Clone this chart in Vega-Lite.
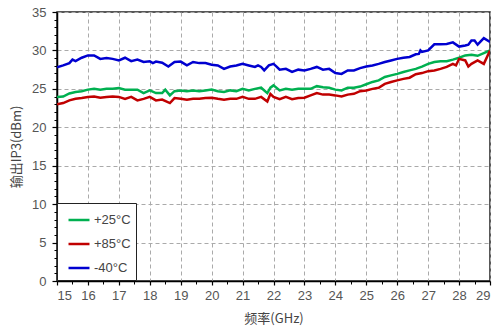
{
  "$schema": "https://vega.github.io/schema/vega-lite/v6.json",
  "width": 433,
  "height": 269,
  "autosize": "none",
  "padding": {"left": 57, "top": 12, "right": 6, "bottom": 49},
  "background": "white",
  "config": {"view": {"stroke": "#222", "strokeWidth": 1.5}},
  "data": {"values": [
    {"f":15.0,"s":"+25°C","v":23.95},{"f":15.2,"s":"+25°C","v":24.0},{"f":15.4,"s":"+25°C","v":24.4},{"f":15.6,"s":"+25°C","v":24.6},{"f":15.8,"s":"+25°C","v":24.7},{"f":16.0,"s":"+25°C","v":24.9},{"f":16.2,"s":"+25°C","v":25.0},{"f":16.4,"s":"+25°C","v":24.9},{"f":16.6,"s":"+25°C","v":25.0},{"f":16.8,"s":"+25°C","v":25.0},{"f":17.0,"s":"+25°C","v":25.1},{"f":17.2,"s":"+25°C","v":24.9},{"f":17.4,"s":"+25°C","v":24.9},{"f":17.6,"s":"+25°C","v":24.9},{"f":17.8,"s":"+25°C","v":24.45},{"f":18.0,"s":"+25°C","v":24.8},{"f":18.2,"s":"+25°C","v":24.45},{"f":18.4,"s":"+25°C","v":24.45},{"f":18.5,"s":"+25°C","v":24.9},{"f":18.65,"s":"+25°C","v":24.15},{"f":18.8,"s":"+25°C","v":24.7},{"f":19.0,"s":"+25°C","v":24.8},{"f":19.2,"s":"+25°C","v":24.7},{"f":19.4,"s":"+25°C","v":24.8},{"f":19.6,"s":"+25°C","v":24.7},{"f":19.8,"s":"+25°C","v":24.8},{"f":20.0,"s":"+25°C","v":24.9},{"f":20.2,"s":"+25°C","v":24.7},{"f":20.4,"s":"+25°C","v":24.6},{"f":20.6,"s":"+25°C","v":24.8},{"f":20.8,"s":"+25°C","v":24.7},{"f":21.0,"s":"+25°C","v":25.0},{"f":21.2,"s":"+25°C","v":24.8},{"f":21.4,"s":"+25°C","v":25.0},{"f":21.6,"s":"+25°C","v":25.15},{"f":21.8,"s":"+25°C","v":24.45},{"f":21.9,"s":"+25°C","v":25.15},{"f":22.0,"s":"+25°C","v":25.45},{"f":22.2,"s":"+25°C","v":24.8},{"f":22.4,"s":"+25°C","v":25.0},{"f":22.6,"s":"+25°C","v":24.9},{"f":22.8,"s":"+25°C","v":25.0},{"f":23.0,"s":"+25°C","v":25.0},{"f":23.2,"s":"+25°C","v":25.0},{"f":23.4,"s":"+25°C","v":25.35},{"f":23.6,"s":"+25°C","v":25.2},{"f":23.8,"s":"+25°C","v":25.15},{"f":24.0,"s":"+25°C","v":24.9},{"f":24.2,"s":"+25°C","v":24.8},{"f":24.4,"s":"+25°C","v":25.15},{"f":24.6,"s":"+25°C","v":25.15},{"f":24.8,"s":"+25°C","v":25.3},{"f":25.0,"s":"+25°C","v":25.6},{"f":25.2,"s":"+25°C","v":25.9},{"f":25.4,"s":"+25°C","v":26.1},{"f":25.6,"s":"+25°C","v":26.55},{"f":25.8,"s":"+25°C","v":26.75},{"f":26.0,"s":"+25°C","v":26.95},{"f":26.2,"s":"+25°C","v":27.2},{"f":26.4,"s":"+25°C","v":27.4},{"f":26.6,"s":"+25°C","v":27.6},{"f":26.8,"s":"+25°C","v":27.9},{"f":27.0,"s":"+25°C","v":28.25},{"f":27.2,"s":"+25°C","v":28.5},{"f":27.4,"s":"+25°C","v":28.6},{"f":27.6,"s":"+25°C","v":28.6},{"f":27.8,"s":"+25°C","v":28.8},{"f":28.0,"s":"+25°C","v":29.05},{"f":28.2,"s":"+25°C","v":29.35},{"f":28.4,"s":"+25°C","v":29.45},{"f":28.6,"s":"+25°C","v":29.3},{"f":28.8,"s":"+25°C","v":29.65},{"f":29.0,"s":"+25°C","v":30.0},
    {"f":15.0,"s":"+85°C","v":23.0},{"f":15.2,"s":"+85°C","v":23.15},{"f":15.4,"s":"+85°C","v":23.5},{"f":15.6,"s":"+85°C","v":23.7},{"f":15.8,"s":"+85°C","v":23.8},{"f":16.0,"s":"+85°C","v":23.95},{"f":16.2,"s":"+85°C","v":24.0},{"f":16.4,"s":"+85°C","v":23.85},{"f":16.6,"s":"+85°C","v":23.95},{"f":16.8,"s":"+85°C","v":24.0},{"f":17.0,"s":"+85°C","v":23.95},{"f":17.2,"s":"+85°C","v":23.7},{"f":17.4,"s":"+85°C","v":23.95},{"f":17.6,"s":"+85°C","v":23.5},{"f":17.8,"s":"+85°C","v":23.7},{"f":18.0,"s":"+85°C","v":23.95},{"f":18.2,"s":"+85°C","v":23.5},{"f":18.4,"s":"+85°C","v":23.6},{"f":18.65,"s":"+85°C","v":23.15},{"f":18.8,"s":"+85°C","v":23.8},{"f":19.0,"s":"+85°C","v":23.7},{"f":19.2,"s":"+85°C","v":23.6},{"f":19.4,"s":"+85°C","v":23.7},{"f":19.6,"s":"+85°C","v":23.7},{"f":19.8,"s":"+85°C","v":23.8},{"f":20.0,"s":"+85°C","v":23.85},{"f":20.2,"s":"+85°C","v":23.7},{"f":20.4,"s":"+85°C","v":23.6},{"f":20.6,"s":"+85°C","v":23.7},{"f":20.8,"s":"+85°C","v":23.7},{"f":21.0,"s":"+85°C","v":23.95},{"f":21.2,"s":"+85°C","v":23.7},{"f":21.4,"s":"+85°C","v":23.7},{"f":21.6,"s":"+85°C","v":23.95},{"f":21.8,"s":"+85°C","v":23.35},{"f":21.9,"s":"+85°C","v":24.35},{"f":22.0,"s":"+85°C","v":23.95},{"f":22.2,"s":"+85°C","v":23.65},{"f":22.4,"s":"+85°C","v":23.95},{"f":22.6,"s":"+85°C","v":23.65},{"f":22.8,"s":"+85°C","v":23.8},{"f":23.0,"s":"+85°C","v":23.85},{"f":23.2,"s":"+85°C","v":24.15},{"f":23.4,"s":"+85°C","v":24.45},{"f":23.6,"s":"+85°C","v":24.25},{"f":23.8,"s":"+85°C","v":24.25},{"f":24.0,"s":"+85°C","v":24.15},{"f":24.2,"s":"+85°C","v":24.0},{"f":24.4,"s":"+85°C","v":24.25},{"f":24.6,"s":"+85°C","v":24.35},{"f":24.8,"s":"+85°C","v":24.7},{"f":25.0,"s":"+85°C","v":24.8},{"f":25.2,"s":"+85°C","v":25.0},{"f":25.4,"s":"+85°C","v":25.15},{"f":25.6,"s":"+85°C","v":25.65},{"f":25.8,"s":"+85°C","v":25.9},{"f":26.0,"s":"+85°C","v":26.1},{"f":26.2,"s":"+85°C","v":26.3},{"f":26.4,"s":"+85°C","v":26.45},{"f":26.6,"s":"+85°C","v":26.9},{"f":26.8,"s":"+85°C","v":27.05},{"f":27.0,"s":"+85°C","v":27.3},{"f":27.2,"s":"+85°C","v":27.4},{"f":27.4,"s":"+85°C","v":27.6},{"f":27.6,"s":"+85°C","v":27.85},{"f":27.8,"s":"+85°C","v":28.25},{"f":27.9,"s":"+85°C","v":28.05},{"f":28.0,"s":"+85°C","v":28.9},{"f":28.2,"s":"+85°C","v":28.7},{"f":28.3,"s":"+85°C","v":27.9},{"f":28.4,"s":"+85°C","v":28.25},{"f":28.6,"s":"+85°C","v":28.7},{"f":28.8,"s":"+85°C","v":28.25},{"f":29.0,"s":"+85°C","v":30.0},
    {"f":15.0,"s":"-40°C","v":27.8},{"f":15.2,"s":"-40°C","v":28.05},{"f":15.4,"s":"-40°C","v":28.35},{"f":15.5,"s":"-40°C","v":28.8},{"f":15.6,"s":"-40°C","v":28.6},{"f":15.8,"s":"-40°C","v":29.05},{"f":16.0,"s":"-40°C","v":29.35},{"f":16.2,"s":"-40°C","v":29.35},{"f":16.4,"s":"-40°C","v":28.9},{"f":16.6,"s":"-40°C","v":29.0},{"f":16.8,"s":"-40°C","v":28.9},{"f":17.0,"s":"-40°C","v":28.7},{"f":17.2,"s":"-40°C","v":29.05},{"f":17.4,"s":"-40°C","v":28.6},{"f":17.6,"s":"-40°C","v":28.8},{"f":17.8,"s":"-40°C","v":28.5},{"f":18.0,"s":"-40°C","v":28.6},{"f":18.1,"s":"-40°C","v":28.35},{"f":18.2,"s":"-40°C","v":28.55},{"f":18.4,"s":"-40°C","v":28.4},{"f":18.6,"s":"-40°C","v":27.9},{"f":18.8,"s":"-40°C","v":28.5},{"f":19.0,"s":"-40°C","v":28.55},{"f":19.2,"s":"-40°C","v":28.05},{"f":19.4,"s":"-40°C","v":28.5},{"f":19.6,"s":"-40°C","v":28.35},{"f":19.8,"s":"-40°C","v":28.35},{"f":20.0,"s":"-40°C","v":28.15},{"f":20.2,"s":"-40°C","v":28.05},{"f":20.4,"s":"-40°C","v":27.6},{"f":20.6,"s":"-40°C","v":27.9},{"f":20.8,"s":"-40°C","v":28.05},{"f":21.0,"s":"-40°C","v":28.25},{"f":21.2,"s":"-40°C","v":28.05},{"f":21.4,"s":"-40°C","v":27.85},{"f":21.5,"s":"-40°C","v":28.05},{"f":21.6,"s":"-40°C","v":27.85},{"f":21.7,"s":"-40°C","v":27.4},{"f":21.85,"s":"-40°C","v":28.05},{"f":22.0,"s":"-40°C","v":28.25},{"f":22.1,"s":"-40°C","v":27.9},{"f":22.2,"s":"-40°C","v":27.5},{"f":22.4,"s":"-40°C","v":27.6},{"f":22.6,"s":"-40°C","v":27.2},{"f":22.8,"s":"-40°C","v":27.5},{"f":23.0,"s":"-40°C","v":27.4},{"f":23.2,"s":"-40°C","v":27.6},{"f":23.4,"s":"-40°C","v":27.85},{"f":23.6,"s":"-40°C","v":27.5},{"f":23.8,"s":"-40°C","v":27.6},{"f":24.0,"s":"-40°C","v":27.05},{"f":24.2,"s":"-40°C","v":26.95},{"f":24.4,"s":"-40°C","v":27.4},{"f":24.6,"s":"-40°C","v":27.4},{"f":24.8,"s":"-40°C","v":27.7},{"f":25.0,"s":"-40°C","v":27.9},{"f":25.2,"s":"-40°C","v":28.05},{"f":25.4,"s":"-40°C","v":28.25},{"f":25.6,"s":"-40°C","v":28.5},{"f":25.8,"s":"-40°C","v":28.7},{"f":26.0,"s":"-40°C","v":28.9},{"f":26.2,"s":"-40°C","v":29.05},{"f":26.4,"s":"-40°C","v":29.15},{"f":26.6,"s":"-40°C","v":29.5},{"f":26.7,"s":"-40°C","v":29.55},{"f":26.75,"s":"-40°C","v":30.0},{"f":26.8,"s":"-40°C","v":29.8},{"f":27.0,"s":"-40°C","v":30.0},{"f":27.2,"s":"-40°C","v":30.8},{"f":27.4,"s":"-40°C","v":30.8},{"f":27.6,"s":"-40°C","v":30.85},{"f":27.8,"s":"-40°C","v":31.05},{"f":28.0,"s":"-40°C","v":30.5},{"f":28.2,"s":"-40°C","v":30.65},{"f":28.3,"s":"-40°C","v":30.75},{"f":28.4,"s":"-40°C","v":31.3},{"f":28.5,"s":"-40°C","v":31.3},{"f":28.6,"s":"-40°C","v":30.75},{"f":28.8,"s":"-40°C","v":31.6},{"f":29.0,"s":"-40°C","v":31.1}
  ]},
  "layer": [
    {
      "mark": {"type": "line", "strokeWidth": 2.5, "clip": true},
      "encoding": {
        "x": {"field": "f", "type": "quantitative",
          "scale": {"domain": [15, 29], "nice": false, "zero": false},
          "axis": {"orient": "bottom", "values": [15,16,17,18,19,20,21,22,23,24,25,26,27,28,29],
            "grid": true, "gridDash": [4, 3], "gridColor": "#aaaaaa", "gridWidth": 1,
            "domainColor": "#000", "domainWidth": 1.5, "tickColor": "#000", "tickSize": 4, "tickWidth": 1.2,
            "labelColor": "#555", "labelFont": "Liberation Sans", "labelFontSize": 13, "labelPadding": 4,
            "title": "频率(GHz)", "titleFont": "Noto Sans CJK SC", "titleFontSize": 13, "titleFontWeight": "normal",
            "titleColor": "#444", "titlePadding": 10}},
        "y": {"field": "v", "type": "quantitative",
          "scale": {"domain": [0, 35], "nice": false},
          "axis": {"orient": "left", "values": [0,5,10,15,20,25,30,35],
            "grid": true, "gridDash": [4, 3], "gridColor": "#aaaaaa", "gridWidth": 1,
            "domainColor": "#000", "domainWidth": 1.5, "tickColor": "#000", "tickSize": 5, "tickWidth": 1.2,
            "labelColor": "#555", "labelFont": "Liberation Sans", "labelFontSize": 13, "labelPadding": 6,
            "title": "输出IP3(dBm)", "titleFont": "Noto Sans CJK SC", "titleFontSize": 13, "titleFontWeight": "normal",
            "titleColor": "#444", "titlePadding": 8}},
        "color": {"field": "s", "type": "nominal",
          "scale": {"domain": ["+25°C", "+85°C", "-40°C"], "range": ["#00b050", "#c00000", "#0000d0"]},
          "legend": {"orient": "none", "legendX": 0, "legendY": 191, "title": null,
            "strokeColor": "#222", "fillColor": "white", "padding": 5, "rowPadding": 5,
            "symbolType": "stroke", "symbolSize": 440, "symbolStrokeWidth": 2.5, "symbolOffset": 5,
            "labelExpr": "datum.label + '\u00a0\u00a0'",
            "labelFont": "Liberation Sans", "labelFontSize": 13, "labelColor": "#444", "labelOffset": 3}}
      }
    },
    {
      "mark": {"type": "line", "opacity": 0},
      "encoding": {
        "x": {"field": "f", "type": "quantitative",
          "axis": {"orient": "bottom", "values": [15.5,16.5,17.5,18.5,19.5,20.5,21.5,22.5,23.5,24.5,25.5,26.5,27.5,28.5],
            "grid": false, "domain": false, "labels": false, "title": null, "tickColor": "#000", "tickSize": 3, "tickWidth": 1}},
        "y": {"field": "v", "type": "quantitative",
          "axis": {"orient": "left", "values": [1,2,3,4,6,7,8,9,11,12,13,14,16,17,18,19,21,22,23,24,26,27,28,29,31,32,33,34],
            "grid": false, "domain": false, "labels": false, "title": null, "tickColor": "#000", "tickSize": 3, "tickWidth": 1}},
        "detail": {"field": "s"}
      }
    }
  ],
  "resolve": {"axis": {"x": "independent", "y": "independent"}}
}
